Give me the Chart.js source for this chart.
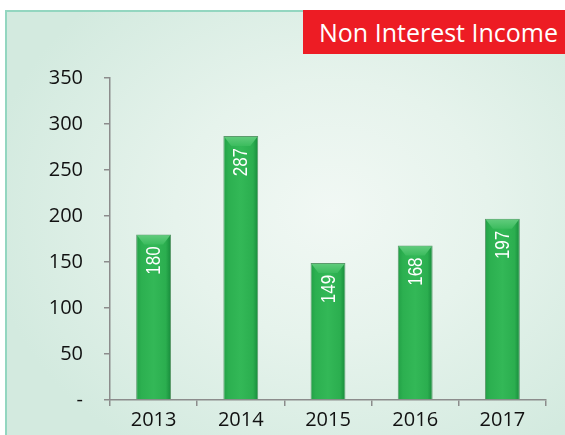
<!DOCTYPE html>
<html>
<head>
<meta charset="utf-8">
<script src="https://cdn.jsdelivr.net/npm/chart.js@4.4.0/dist/chart.umd.min.js"></script>
<style>
html, body { margin: 0; padding: 0; background: #fff; }
#frame {
    position: absolute; left: 5px; top: 10px; width: 580px; height: 440px;
    border-left: 2px solid #93d6c0; border-top: 2px solid #93d6c0;
    background: radial-gradient(ellipse 60% 65% at 56% 45%, #f1f8f4 0%, #e6f3ec 45%, #d3eadf 100%);
}
#title {
    position: absolute; left: 303px; top: 10px; width: 262px; height: 44px;
    background: #ed1c24; color: #fff; font-family: 'Open Sans', sans-serif; font-size: 25px;
    line-height: 44px; padding-left: 16px; box-sizing: border-box; white-space: nowrap;
    overflow: hidden;
}
#wrap { position: absolute; left: 0; top: 0; width: 565px; height: 435px; }
</style>
</head>
<body>
<div id="frame"></div>
<div id="wrap"><canvas id="canvas" width="565" height="435"></canvas></div>
<div id="title">Non Interest Income</div>
<script>
var years = ['2013', '2014', '2015', '2016', '2017'];
var income = [180, 287, 149, 168, 197];
var yMax = 350;
var yStep = 50;

var barPct = 0.4;

function barFill(c) {
    var chart = c.chart;
    if (!chart.chartArea) {
        return '#2fb456';
    }
    var xs = chart.scales.x;
    var cx = xs.getPixelForValue(c.dataIndex);
    var w = xs.width / years.length * barPct;
    var g = chart.ctx.createLinearGradient(cx - w / 2, 0, cx + w / 2, 0);
    g.addColorStop(0, '#22a046');
    g.addColorStop(0.15, '#2cb050');
    g.addColorStop(0.5, '#33b857');
    g.addColorStop(0.85, '#2bae4f');
    g.addColorStop(1, '#178a3b');
    return g;
}

// light bevel on top of each bar + rotated value labels
var barDecor = {
    id: 'barDecor',
    afterDatasetsDraw: function(chart) {
        var ctx = chart.ctx;
        var meta = chart.getDatasetMeta(0);
        meta.data.forEach(function(bar, i) {
            var l = bar.x - bar.width / 2 + 1;
            var r = bar.x + bar.width / 2 - 1;
            var t = bar.y + 1;
            ctx.save();
            var g = ctx.createLinearGradient(0, t, 0, t + 9);
            g.addColorStop(0, '#5fcb7b');
            g.addColorStop(1, '#3cbc5e');
            ctx.fillStyle = g;
            ctx.beginPath();
            ctx.moveTo(l, t);
            ctx.lineTo(r, t);
            ctx.lineTo(r - 7, t + 9);
            ctx.lineTo(l + 7, t + 9);
            ctx.closePath();
            ctx.fill();

            ctx.translate(bar.x, bar.y + 12);
            ctx.rotate(-Math.PI / 2);
            ctx.scale(0.85, 1);
            ctx.fillStyle = '#ffffff';
            ctx.font = "20px 'Liberation Sans Narrow', 'Liberation Sans', sans-serif";
            ctx.textAlign = 'right';
            ctx.textBaseline = 'middle';
            ctx.fillText(String(income[i]), 0, 1);
            ctx.restore();
        });
    }
};

var ctx = document.getElementById('canvas').getContext('2d');
window.myBar = new Chart(ctx, {
    type: 'bar',
    data: {
        labels: years,
        datasets: [{
            label: 'Non Interest Income',
            data: income,
            backgroundColor: barFill,
            borderColor: '#5c9a6c',
            borderWidth: 1,
            borderSkipped: 'bottom',
            barPercentage: barPct,
            categoryPercentage: 1
        }]
    },
    options: {
        responsive: false,
        animation: false,
        layout: {
            padding: { left: 0, right: 19, top: 78, bottom: 0 }
        },
        plugins: {
            legend: { display: false },
            title: { display: false },
            tooltip: { enabled: false }
        },
        scales: {
            x: {
                afterFit: function(scale) { scale.height = 35; },
                grid: {
                    offset: true,
                    drawOnChartArea: false,
                    drawTicks: true,
                    tickLength: 6,
                    color: '#8c8c8c',
                    lineWidth: 1.5
                },
                border: { color: '#8c8c8c', width: 1.5 },
                ticks: {
                    color: '#111111',
                    padding: 2,
                    font: { family: "'Open Sans', sans-serif", size: 20 }
                }
            },
            y: {
                min: 0,
                max: yMax,
                afterFit: function(scale) { scale.width = 110; },
                grid: {
                    drawOnChartArea: false,
                    drawTicks: true,
                    tickLength: 6,
                    color: '#8c8c8c',
                    lineWidth: 1.5
                },
                border: { color: '#8c8c8c', width: 1.5 },
                ticks: {
                    stepSize: yStep,
                    color: '#111111',
                    padding: 21,
                    font: { family: "'Open Sans', sans-serif", size: 20 },
                    callback: function(v) { return v === 0 ? '-' : v; }
                }
            }
        }
    },
    plugins: [barDecor]
});
</script>
</body>
</html>
